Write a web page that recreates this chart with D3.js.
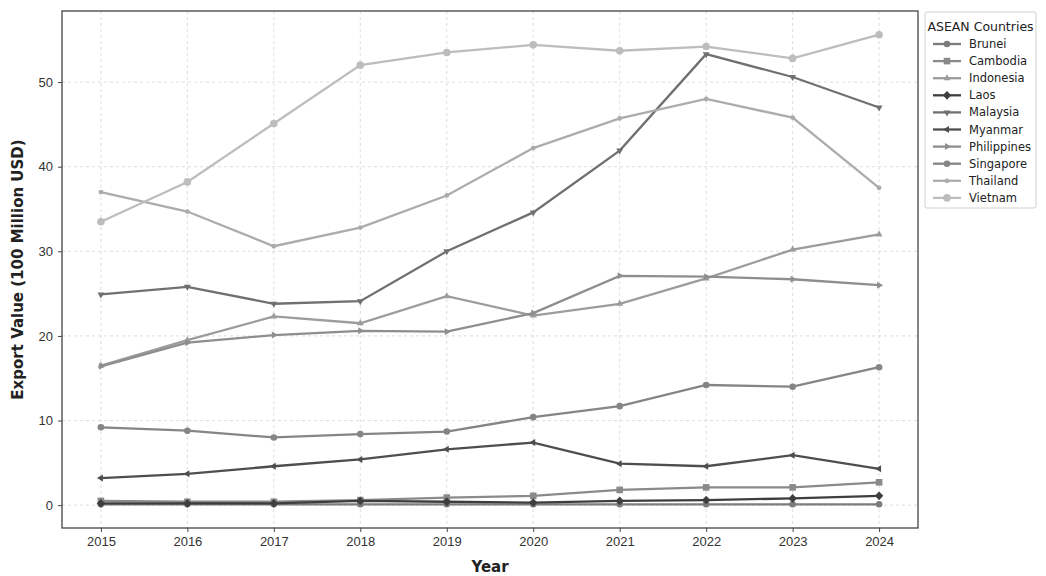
<!DOCTYPE html>
<html>
<head>
<meta charset="utf-8">
<script src="https://cdn.jsdelivr.net/npm/d3@7"></script>
<style>
  html, body { margin: 0; padding: 0; background: #fff; }
  svg { display: block; font-family: "DejaVu Sans", sans-serif; }
</style>
</head>
<body>
<div id="chart"></div>
<script>
// Export value by ASEAN country, 100 million USD
const years = [2015, 2016, 2017, 2018, 2019, 2020, 2021, 2022, 2023, 2024];
const countries = ['Brunei', 'Cambodia', 'Indonesia', 'Laos', 'Malaysia', 'Myanmar', 'Philippines', 'Singapore', 'Thailand', 'Vietnam'];

const brunei      = [0.1, 0.1, 0.1, 0.1, 0.1, 0.1, 0.1, 0.1, 0.1, 0.1];
const cambodia    = [0.5, 0.4, 0.4, 0.6, 0.9, 1.1, 1.8, 2.1, 2.1, 2.7];
const indonesia   = [16.5, 19.5, 22.3, 21.5, 24.7, 22.4, 23.8, 26.8, 30.2, 32.0];
const laos        = [0.2, 0.2, 0.2, 0.5, 0.4, 0.3, 0.5, 0.6, 0.8, 1.1];
const malaysia    = [24.9, 25.8, 23.8, 24.1, 30.0, 34.6, 41.9, 53.3, 50.6, 47.0];
const myanmar     = [3.2, 3.7, 4.6, 5.4, 6.6, 7.4, 4.9, 4.6, 5.9, 4.3];
const philippines = [16.4, 19.2, 20.1, 20.6, 20.5, 22.7, 27.1, 27.0, 26.7, 26.0];
const singapore   = [9.2, 8.8, 8.0, 8.4, 8.7, 10.4, 11.7, 14.2, 14.0, 16.3];
const thailand    = [37.0, 34.7, 30.6, 32.8, 36.6, 42.2, 45.7, 48.0, 45.8, 37.5];
const vietnam     = [33.5, 38.2, 45.1, 52.0, 53.5, 54.4, 53.7, 54.2, 52.8, 55.6];

const yTicks = [0, 10, 20, 30, 40, 50];

const seriesValues = [brunei, cambodia, indonesia, laos, malaysia, myanmar, philippines, singapore, thailand, vietnam];
const colors = ['#7c7c7c', '#8a8a8a', '#9c9c9c', '#3e3e3e', '#707070', '#4e4e4e', '#8e8e8e', '#858585', '#acacac', '#bdbdbd'];
const shapes = ['circle', 'square', 'up', 'diamond', 'down', 'left', 'right', 'circle', 'dot', 'bigcircle'];

const W = 1046, H = 576;
const M = { left: 62, right: 128, top: 11, bottom: 48 };

const svg = d3.select('#chart').append('svg').attr('width', W).attr('height', H);

const x = d3.scaleLinear().domain([2015 - 0.45, 2024 + 0.45]).range([M.left, W - M.right]);
const y = d3.scaleLinear().domain([-2.7, 58.4]).range([H - M.bottom, M.top]);

// grid
const grid = svg.append('g');
grid.selectAll('line.gx').data(years).enter().append('line')
  .attr('x1', d => x(d)).attr('x2', d => x(d))
  .attr('y1', M.top).attr('y2', H - M.bottom)
  .attr('stroke', '#d4d4d4').attr('stroke-width', 0.8).attr('stroke-dasharray', '3,3');
grid.selectAll('line.gy').data(yTicks).enter().append('line')
  .attr('x1', M.left).attr('x2', W - M.right)
  .attr('y1', d => y(d)).attr('y2', d => y(d))
  .attr('stroke', '#d4d4d4').attr('stroke-width', 0.8).attr('stroke-dasharray', '3,3');

// axes
const xAxis = svg.append('g').attr('transform', `translate(0,${H - M.bottom})`)
  .call(d3.axisBottom(x).tickValues(years).tickFormat(d3.format('d')).tickSize(4).tickPadding(5));
const yAxis = svg.append('g').attr('transform', `translate(${M.left},0)`)
  .call(d3.axisLeft(y).tickValues(yTicks).tickSize(4).tickPadding(5));
[xAxis, yAxis].forEach(a => {
  a.select('.domain').remove();
  a.selectAll('.tick line').attr('stroke', '#444');
  a.selectAll('.tick text').attr('fill', '#333').style('font-size', '13px');
});

svg.append('rect')
  .attr('x', M.left).attr('y', M.top)
  .attr('width', W - M.left - M.right).attr('height', H - M.top - M.bottom)
  .attr('fill', 'none').attr('stroke', '#444').attr('stroke-width', 1.3);

// markers
function marker(sel, shape, color, s) {
  const k = s || 1;
  if (shape === 'circle') sel.append('circle').attr('r', 3.3 * k).attr('fill', color);
  else if (shape === 'bigcircle') sel.append('circle').attr('r', 3.8 * k).attr('fill', color);
  else if (shape === 'dot') sel.append('circle').attr('r', 2.4 * k).attr('fill', color);
  else if (shape === 'square') sel.append('rect').attr('x', -3.3 * k).attr('y', -3.3 * k).attr('width', 6.6 * k).attr('height', 6.6 * k).attr('fill', color);
  else if (shape === 'diamond') sel.append('path').attr('d', `M0,${-4.4 * k}L${4.2 * k},0L0,${4.4 * k}L${-4.2 * k},0Z`).attr('fill', color);
  else {
    const r = 4 * k;
    const rot = { up: 0, down: 180, left: -90, right: 90 }[shape];
    sel.append('path').attr('d', `M0,${-r}L${r * 0.87},${r * 0.5}L${-r * 0.87},${r * 0.5}Z`)
      .attr('transform', `rotate(${rot})`).attr('fill', color);
  }
}

const line = d3.line().x((d, i) => x(years[i])).y(d => y(d));

countries.forEach((c, ci) => {
  const vals = seriesValues[ci];
  const g = svg.append('g');
  g.append('path').datum(vals).attr('d', line)
    .attr('fill', 'none').attr('stroke', colors[ci]).attr('stroke-width', 2.3);
  vals.forEach((v, i) => {
    const m = g.append('g').attr('transform', `translate(${x(years[i])},${y(v)})`);
    marker(m, shapes[ci], colors[ci]);
  });
});

// axis titles
svg.append('text').attr('x', (M.left + W - M.right) / 2).attr('y', H - 4)
  .attr('text-anchor', 'middle').style('font-size', '15px').style('font-weight', 'bold').attr('fill', '#222')
  .text('Year');
svg.append('text')
  .attr('transform', `translate(23,${(M.top + H - M.bottom) / 2}) rotate(-90)`)
  .attr('text-anchor', 'middle').style('font-size', '15px').style('font-weight', 'bold').attr('fill', '#222')
  .text('Export Value (100 Million USD)');

// legend
const lg = svg.append('g').attr('transform', 'translate(925,12)');
lg.append('rect').attr('width', 111).attr('height', 196).attr('rx', 2)
  .attr('fill', '#fff').attr('stroke', '#d0d0d0');
lg.append('text').attr('x', 55.5).attr('y', 19).attr('text-anchor', 'middle')
  .style('font-size', '12.5px').attr('fill', '#222').text('ASEAN Countries');
countries.forEach((c, ci) => {
  const yy = 32 + ci * 17.1;
  const it = lg.append('g').attr('transform', `translate(0,${yy})`);
  it.append('line').attr('x1', 8).attr('x2', 36).attr('stroke', colors[ci]).attr('stroke-width', 2.3);
  marker(it.append('g').attr('transform', 'translate(22,0)'), shapes[ci], colors[ci]);
  it.append('text').attr('x', 44).attr('y', 4).style('font-size', '11.5px').attr('fill', '#222').text(c);
});
</script>
</body>
</html>
